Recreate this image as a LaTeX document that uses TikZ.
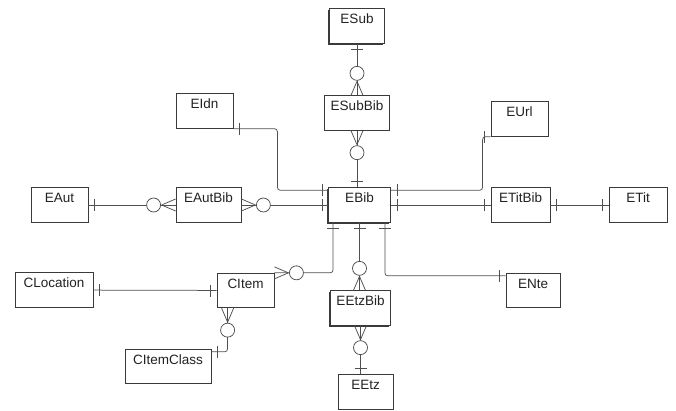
\documentclass[tikz,border=0pt]{standalone}
\usepackage{fontspec}
\setmainfont{Liberation Sans}
\usepackage{xcolor}
\usetikzlibrary{shadows}
\definecolor{boxline}{HTML}{3A3A3A}
\definecolor{relline}{HTML}{505050}
\definecolor{labeltext}{HTML}{222222}

\tikzset{
    entity/.style={draw=boxline, line width=0.8pt, fill=white, text=labeltext,
        font=\fontsize{13.5}{15}\selectfont, text height=9.8pt, text depth=14.7pt,
        inner ysep=5pt, inner xsep=0pt},
    keyent/.style={entity, drop shadow={shadow xshift=-1.6pt, shadow yshift=-1.6pt,
        fill=boxline, opacity=1}},
    rel/.style={draw=relline, line width=0.75pt, rounded corners=3pt},
    relmark/.style={draw=relline, line width=0.75pt},
    one/.pic={\draw[relmark] (6,-6) -- (6,6);},
    zmany/.pic={
        \draw[relmark] (14,0) -- (0,-6) (14,0) -- (0,6);
        \draw[relmark, fill=white] (22,0) circle (7pt);},
}

\begin{document}
\begin{tikzpicture}[x=1pt, y=-1pt]
    \useasboundingbox (0,0) rectangle (676,411);
    % entities, top
    \node[keyent, minimum width=55pt] (ESub) at (357,26) {ESub};
    \node[entity, minimum width=65pt] (ESubBib) at (357,113) {ESubBib};
    \node[entity, minimum width=57pt] (EIdn) at (204.5,111) {EIdn};
    \node[entity, minimum width=57pt] (EUrl) at (519.5,119) {EUrl};
    % entities, middle row
    \node[entity, minimum width=57pt] (EAut) at (59.5,205) {EAut};
    \node[entity, minimum width=65pt] (EAutBib) at (208.5,205) {EAutBib};
    \node[keyent, minimum width=62pt] (EBib) at (359.5,205) {EBib};
    \node[entity, minimum width=59pt] (ETitBib) at (520.5,205) {ETitBib};
    \node[entity, minimum width=58pt] (ETit) at (638,205) {ETit};
    % entities, bottom
    \node[entity, minimum width=78pt] (CLocation) at (54,290) {CLocation};
    \node[entity, minimum width=57pt] (CItem) at (245.5,290.5) {CItem};
    \node[entity, minimum width=86pt] (CItemClass) at (168,366.5) {CItemClass};
    \node[keyent, minimum width=60pt] (EEtzBib) at (360.5,308) {EEtzBib};
    \node[entity, minimum width=54pt] (ENte) at (533,290.5) {ENte};
    \node[entity, minimum width=55pt] (EEtz) at (365.5,392) {EEtz};

    % connectors, top
    \draw[rel] (ESub.south) -- (ESubBib.north);
    \draw[rel] (ESubBib.south) -- (ESubBib.south |- EBib.north);
    \draw[rel] (EIdn.south east) -- ++(44,0) |- ([yshift=-3pt]EBib.north west);
    \draw[rel] (EUrl.south west) -- ++(-8,0) |- ([yshift=-3pt]EBib.north east);
    % connectors, middle row
    \draw[rel] (EAut) -- (EAutBib);
    \draw[rel] (EAutBib) -- (EBib);
    \draw[rel] (EBib) -- (ETitBib);
    \draw[rel] (ETitBib) -- (ETit);
    % connectors, bottom
    \draw[rel] ([xshift=5pt]EBib.south west) |- (CItem.north east);
    \draw[rel] (EBib.south) -- (EBib.south |- EEtzBib.north);
    \draw[rel] ([xshift=-6pt]EBib.south east) |- ([yshift=-3pt]ENte.north west);
    \draw[rel] (CLocation) -- (CItem);
    \draw[rel] ([xshift=11pt]CItem.south west) |- ([yshift=-3pt]CItemClass.north east);
    \draw[rel] (EEtzBib.south) -- (EEtzBib.south |- EEtz.north);

    % cardinality marks
    \pic[rotate=-90] at (ESub.south) {one};
    \pic[rotate=90] at (ESubBib.north) {zmany};
    \pic[rotate=-90] at (ESubBib.south) {zmany};
    \pic[rotate=90] at (ESubBib.south |- EBib.north) {one};
    \pic at (EIdn.south east) {one};
    \pic[rotate=180] at ([yshift=-3pt]EBib.north west) {one};
    \pic[rotate=180] at (EUrl.south west) {one};
    \pic at ([yshift=-3pt]EBib.north east) {one};
    \pic at (EAut.east) {one};
    \pic[rotate=180] at (EAutBib.west) {zmany};
    \pic at (EAutBib.east) {zmany};
    \pic[rotate=180] at (EBib.west) {one};
    \pic at (EBib.east) {one};
    \pic[rotate=180] at (ETitBib.west) {one};
    \pic at (ETitBib.east) {one};
    \pic[rotate=180] at (ETit.west) {one};
    \pic[rotate=-90] at ([xshift=5pt]EBib.south west) {one};
    \pic at (CItem.north east) {zmany};
    \pic[rotate=-90] at (EBib.south) {one};
    \pic[rotate=90] at (EBib.south |- EEtzBib.north) {zmany};
    \pic[rotate=-90] at ([xshift=-6pt]EBib.south east) {one};
    \pic[rotate=180] at ([yshift=-3pt]ENte.north west) {one};
    \pic at (CLocation.east) {one};
    \pic[rotate=180] at (CItem.west) {one};
    \pic[rotate=-90] at ([xshift=11pt]CItem.south west) {zmany};
    \pic at ([yshift=-3pt]CItemClass.north east) {one};
    \pic[rotate=-90] at (EEtzBib.south) {zmany};
    \pic[rotate=90] at (EEtzBib.south |- EEtz.north) {one};
\end{tikzpicture}
\end{document}
